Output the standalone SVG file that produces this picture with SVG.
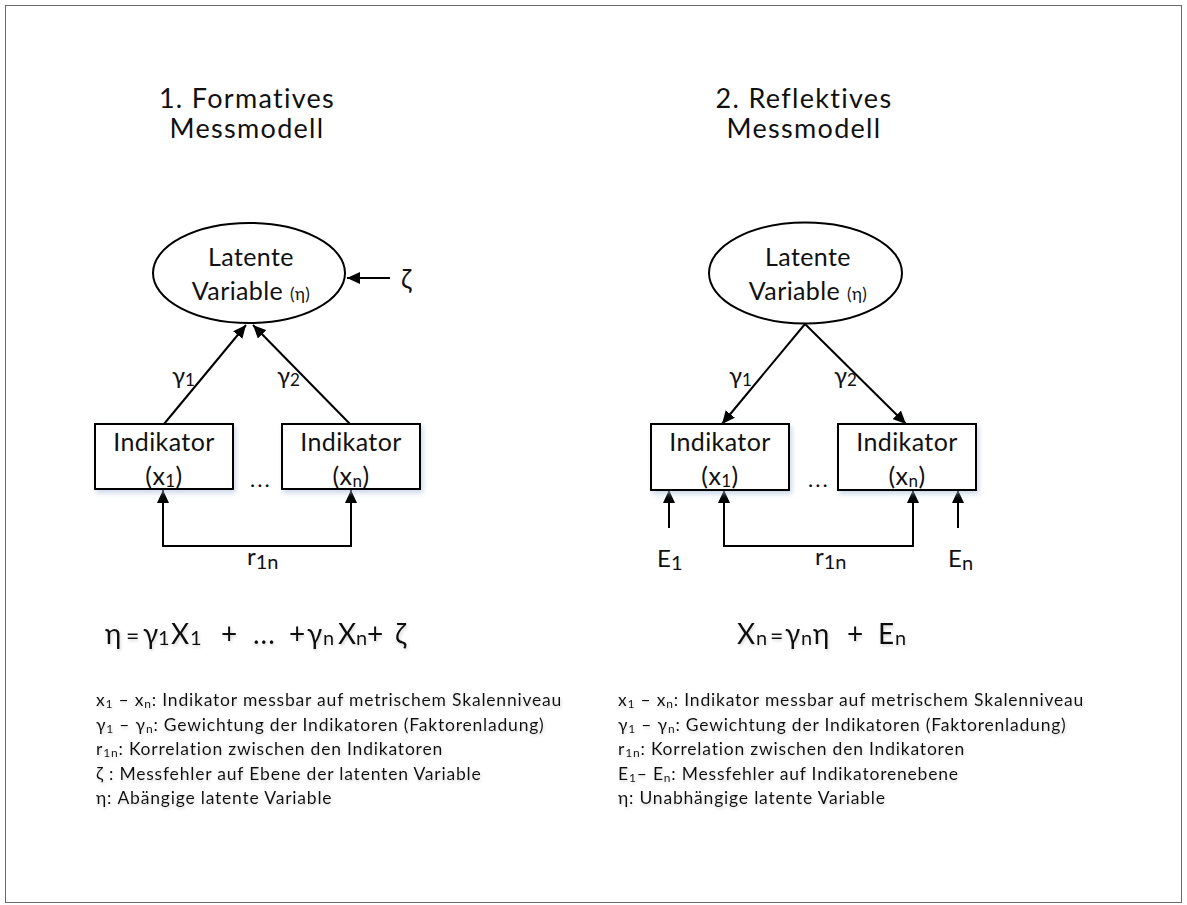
<svg xmlns="http://www.w3.org/2000/svg" width="1187" height="905" viewBox="0 0 1187 905">
  <style>
    text { font-family: Lato, "Noto Sans", "Liberation Sans", sans-serif; fill: #111; }
    .title { font-size: 27px; text-anchor: middle; letter-spacing: 1.3px; }
    .lbl { font-size: 25px; text-anchor: middle; letter-spacing: 0.4px; }
    .sm { font-size: 17px; }
    .eq { font-size: 28px; }
    .eqsub { font-size: 20px; }
    .leg { font-size: 17.5px; letter-spacing: 0.8px; }
    .node { fill: #fff; stroke: #000; stroke-width: 2; }
    .conn { fill: none; stroke: #000; stroke-width: 2; }
    .txtsh { filter: url(#tshadow); }
  </style>
  <defs>
    <marker id="arrow" markerUnits="userSpaceOnUse" markerWidth="14" markerHeight="12" refX="13" refY="6" orient="auto-start-reverse">
      <path d="M0,0 L13,6 L0,12 z" fill="#000"/>
    </marker>
    <filter id="bshadow" x="-10%" y="-10%" width="130%" height="140%">
      <feDropShadow dx="2" dy="3" stdDeviation="2.5" flood-color="#a9c0dc" flood-opacity="0.6"/>
    </filter>
    <filter id="tshadow" x="-5%" y="-30%" width="110%" height="180%">
      <feDropShadow dx="1" dy="2" stdDeviation="1.5" flood-color="#888" flood-opacity="0.35"/>
    </filter>
  </defs>

  <rect x="5.5" y="5.5" width="1176" height="897" fill="#fff" stroke="#6a6a6a" stroke-width="1"/>

  <!-- Titles -->
  <g id="title-formative">
    <text class="title" x="247" y="108">1. Formatives</text>
    <text class="title" x="247" y="138">Messmodell</text>
  </g>
  <g id="title-reflective">
    <text class="title" x="804" y="108">2. Reflektives</text>
    <text class="title" x="804" y="138">Messmodell</text>
  </g>

  <!-- Connectors -->
  <g id="connectors">
    <!-- formative: indicators point to latent variable -->
    <line class="conn" x1="164" y1="424" x2="246" y2="325" marker-end="url(#arrow)"/>
    <line class="conn" x1="350" y1="424" x2="253" y2="325" marker-end="url(#arrow)"/>
    <line class="conn" x1="390" y1="278" x2="347" y2="278" marker-end="url(#arrow)"/>
    <path class="conn" d="M163,490 L163,546 L351,546 L351,490" marker-start="url(#arrow)" marker-end="url(#arrow)"/>
    <!-- reflective: latent variable points to indicators -->
    <line class="conn" x1="805" y1="324" x2="722" y2="424" marker-end="url(#arrow)"/>
    <line class="conn" x1="805" y1="324" x2="906" y2="424" marker-end="url(#arrow)"/>
    <path class="conn" d="M724,490 L724,546 L913,546 L913,490" marker-start="url(#arrow)" marker-end="url(#arrow)"/>
    <line class="conn" x1="669" y1="528" x2="669" y2="490" marker-end="url(#arrow)"/>
    <line class="conn" x1="958" y1="528" x2="958" y2="490" marker-end="url(#arrow)"/>
  </g>

  <!-- Formative model nodes -->
  <g id="latent-formative">
    <ellipse class="node" cx="249" cy="273" rx="96" ry="50"/>
    <text class="lbl" x="251" y="266">Latente</text>
    <text class="lbl" x="251" y="300">Variable <tspan class="sm">(η)</tspan></text>
  </g>
  <g id="zeta">
    <text x="401" y="289" style="font-size:26px">ζ</text>
  </g>
  <g id="indicator-f1">
    <rect class="node" x="95" y="424" width="138" height="65" filter="url(#bshadow)"/>
    <text class="lbl" x="164" y="451">Indikator</text>
    <text class="lbl" x="164" y="485">(x<tspan class="sm" dy="2">1</tspan><tspan dy="-2">)</tspan></text>
  </g>
  <g id="indicator-fn">
    <rect class="node" x="282" y="424" width="138" height="65" filter="url(#bshadow)"/>
    <text class="lbl" x="351" y="451">Indikator</text>
    <text class="lbl" x="351" y="485">(x<tspan class="sm" dy="2">n</tspan><tspan dy="-2">)</tspan></text>
  </g>
  <g id="labels-formative">
    <text x="172" y="384" style="font-size:24px">γ<tspan class="sm" dy="2">1</tspan></text>
    <text x="277" y="384" style="font-size:24px">γ<tspan class="sm" dy="2">2</tspan></text>
    <text x="250" y="487" style="font-size:22px;letter-spacing:2px">...</text>
    <text x="247" y="565" style="font-size:24px">r<tspan style="font-size:20px" dy="4">1n</tspan></text>
  </g>

  <!-- Reflective model nodes -->
  <g id="latent-reflective">
    <ellipse class="node" cx="805.5" cy="273" rx="96.5" ry="50.5"/>
    <text class="lbl" x="808" y="266">Latente</text>
    <text class="lbl" x="808" y="300">Variable <tspan class="sm">(η)</tspan></text>
  </g>
  <g id="indicator-r1">
    <rect class="node" x="651" y="424" width="138" height="66" filter="url(#bshadow)"/>
    <text class="lbl" x="720" y="451">Indikator</text>
    <text class="lbl" x="720" y="485">(x<tspan class="sm" dy="2">1</tspan><tspan dy="-2">)</tspan></text>
  </g>
  <g id="indicator-rn">
    <rect class="node" x="838" y="424" width="138" height="66" filter="url(#bshadow)"/>
    <text class="lbl" x="907" y="451">Indikator</text>
    <text class="lbl" x="907" y="485">(x<tspan class="sm" dy="2">n</tspan><tspan dy="-2">)</tspan></text>
  </g>
  <g id="labels-reflective">
    <text x="729" y="384" style="font-size:24px">γ<tspan class="sm" dy="2">1</tspan></text>
    <text x="834" y="384" style="font-size:24px">γ<tspan class="sm" dy="2">2</tspan></text>
    <text x="808" y="487" style="font-size:22px;letter-spacing:2px">...</text>
    <text x="815" y="565" style="font-size:24px">r<tspan style="font-size:20px" dy="4">1n</tspan></text>
    <text x="657" y="567" style="font-size:24px">E<tspan style="font-size:20px" dy="3">1</tspan></text>
    <text x="948" y="567" style="font-size:24px">E<tspan style="font-size:20px" dy="3">n</tspan></text>
  </g>

  <!-- Equations -->
  <g id="equation-formative" class="txtsh">
    <text class="eq" y="644"><tspan x="105">η</tspan><tspan x="126" style="font-size:23px">=</tspan><tspan x="143">γ</tspan><tspan x="158" class="eqsub" dy="1">1</tspan><tspan x="171" dy="-1">X</tspan><tspan x="190" class="eqsub" dy="1">1</tspan><tspan x="221" dy="-1">+</tspan><tspan x="253" style="letter-spacing:1px">...</tspan><tspan x="289">+</tspan><tspan x="307">γ</tspan><tspan x="323" class="eqsub" dy="1">n</tspan><tspan x="338" dy="-1">X</tspan><tspan x="356" class="eqsub" dy="1">n</tspan><tspan x="367" dy="-1">+</tspan><tspan x="395">ζ</tspan></text>
  </g>
  <g id="equation-reflective" class="txtsh">
    <text class="eq" y="644"><tspan x="737">X</tspan><tspan x="756" class="eqsub" dy="1">n</tspan><tspan x="770" dy="-1" style="font-size:23px">=</tspan><tspan x="785">γ</tspan><tspan x="801" class="eqsub" dy="1">n</tspan><tspan x="813" dy="-1">η</tspan><tspan x="847">+</tspan><tspan x="878">E</tspan><tspan x="895" class="eqsub" dy="1">n</tspan></text>
  </g>

  <!-- Legends -->
  <g id="legend-formative" class="txtsh">
    <text class="leg" x="96" y="706">x<tspan font-size="12" dy="2">1</tspan><tspan dy="-2"> – x</tspan><tspan font-size="12" dy="2">n</tspan><tspan dy="-2">: Indikator messbar auf metrischem Skalenniveau</tspan></text>
    <text class="leg" x="96" y="731">γ<tspan font-size="12" dy="2">1</tspan><tspan dy="-2"> – γ</tspan><tspan font-size="12" dy="2">n</tspan><tspan dy="-2">: Gewichtung der Indikatoren (Faktorenladung)</tspan></text>
    <text class="leg" x="96" y="755">r<tspan font-size="12" dy="2">1n</tspan><tspan dy="-2">: Korrelation zwischen den Indikatoren</tspan></text>
    <text class="leg" x="96" y="780">ζ : Messfehler auf Ebene der latenten Variable</text>
    <text class="leg" x="96" y="804">η: Abängige latente Variable</text>
  </g>
  <g id="legend-reflective" class="txtsh">
    <text class="leg" x="618" y="706">x<tspan font-size="12" dy="2">1</tspan><tspan dy="-2"> – x</tspan><tspan font-size="12" dy="2">n</tspan><tspan dy="-2">: Indikator messbar auf metrischem Skalenniveau</tspan></text>
    <text class="leg" x="618" y="731">γ<tspan font-size="12" dy="2">1</tspan><tspan dy="-2"> – γ</tspan><tspan font-size="12" dy="2">n</tspan><tspan dy="-2">: Gewichtung der Indikatoren (Faktorenladung)</tspan></text>
    <text class="leg" x="618" y="755">r<tspan font-size="12" dy="2">1n</tspan><tspan dy="-2">: Korrelation zwischen den Indikatoren</tspan></text>
    <text class="leg" x="618" y="780">E<tspan font-size="12" dy="2">1</tspan><tspan dy="-2">– E</tspan><tspan font-size="12" dy="2">n</tspan><tspan dy="-2">: Messfehler auf Indikatorenebene</tspan></text>
    <text class="leg" x="618" y="804">η: Unabhängige latente Variable</text>
  </g>
</svg>
